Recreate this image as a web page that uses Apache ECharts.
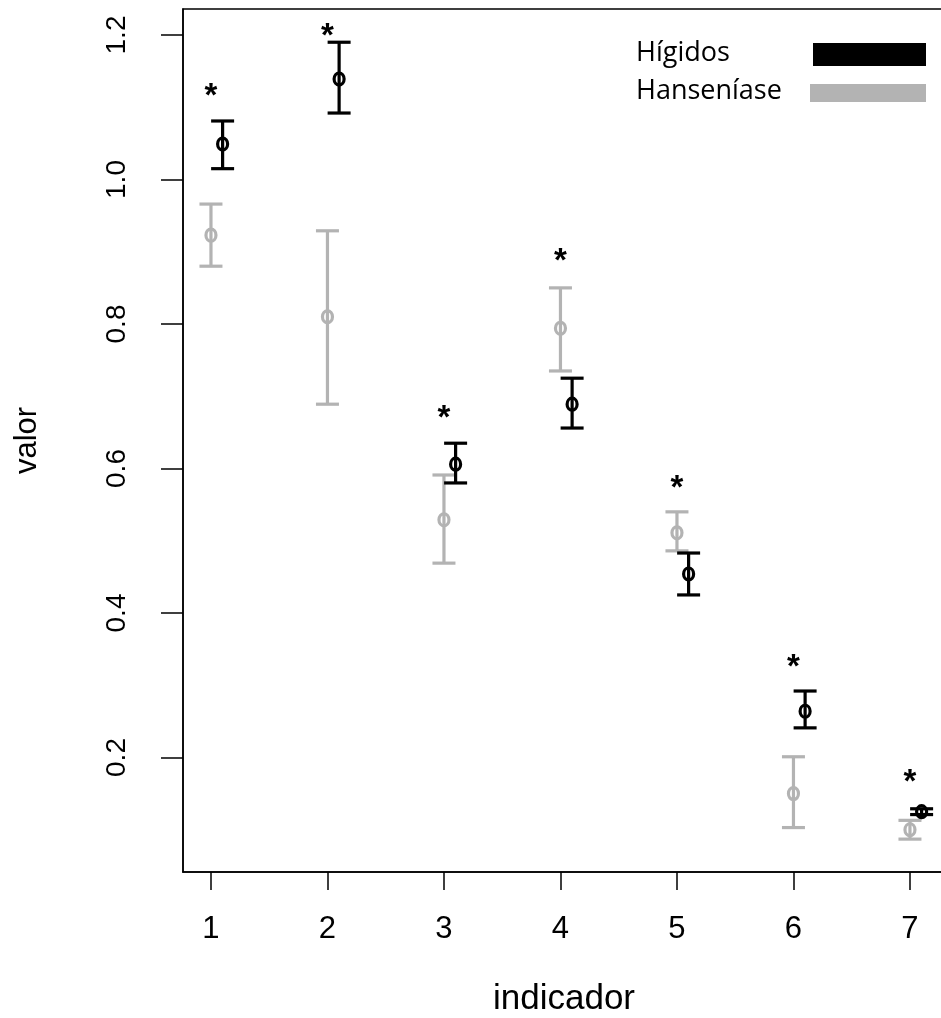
<!DOCTYPE html>
<html>
<head>
<meta charset="utf-8">
<script src="https://cdn.jsdelivr.net/npm/echarts@6/dist/echarts.min.js"></script>
<style>html,body{margin:0;padding:0;background:#fff;}#c{width:941px;height:1018px;}</style>
</head>
<body>
<div id="c"></div>
<script>
const categories = [1, 2, 3, 4, 5, 6, 7];
const xTicks = [1, 2, 3, 4, 5, 6, 7];
const yTicks = [0.2, 0.4, 0.6, 0.8, 1.0, 1.2];
const higidosMean = [1.049, 1.139, 0.606, 0.689, 0.454, 0.264, 0.125];
const higidosLow  = [1.015, 1.092, 0.580, 0.656, 0.425, 0.241, 0.121];
const higidosHigh = [1.081, 1.190, 0.635, 0.725, 0.483, 0.292, 0.129];
const hansMean = [0.923, 0.810, 0.529, 0.794, 0.511, 0.150, 0.100];
const hansLow  = [0.880, 0.689, 0.469, 0.735, 0.486, 0.103, 0.087];
const hansHigh = [0.966, 0.929, 0.591, 0.850, 0.540, 0.201, 0.113];
const starY = [1.127, 1.210, 0.681, 0.898, 0.584, 0.336, 0.177];
const seriesNames = ['Hígidos', 'Hanseníase'];

const chart = echarts.init(document.getElementById('c'), null, {renderer: 'canvas'});

function errRender(color, offset) {
  return function (params, api) {
    const x = api.value(0) + offset;
    const pH = api.coord([x, api.value(2)]);
    const pL = api.coord([x, api.value(1)]);
    const pM = api.coord([x, api.value(3)]);
    const cw = 11.5;
    const st = {stroke: color, lineWidth: 3.2, fill: null};
    return {
      type: 'group',
      children: [
        {type: 'line', shape: {x1: pH[0], y1: pH[1], x2: pL[0], y2: pL[1]}, style: st},
        {type: 'line', shape: {x1: pH[0] - cw, y1: pH[1], x2: pH[0] + cw, y2: pH[1]}, style: st},
        {type: 'line', shape: {x1: pL[0] - cw, y1: pL[1], x2: pL[0] + cw, y2: pL[1]}, style: st},
        {type: 'ellipse', shape: {cx: pM[0], cy: pM[1], rx: 5, ry: 6}, style: {stroke: color, lineWidth: 3.2, fill: null}}
      ]
    };
  };
}

function starRender(params, api) {
  const p = api.coord([api.value(0), api.value(1)]);
  return {
    type: 'text',
    x: p[0], y: p[1] + 9,
    style: {text: '*', fill: '#000', font: 'bold 33px "Liberation Sans"', align: 'center', verticalAlign: 'middle'}
  };
}

const option = {
  backgroundColor: '#fff',
  animation: false,
  grid: {left: 183, top: 9, width: 780, height: 863, show: true, borderColor: '#000', borderWidth: 1.5,
    containLabel: false, outerBoundsMode: 'none'},
  xAxis: {
    type: 'value', min: 0.76, max: 0.76 + 780 / 116.5,
    name: 'indicador', nameLocation: 'middle', nameGap: 110,
    nameTextStyle: {fontFamily: 'Liberation Sans', fontSize: 35, color: '#000', padding: [0, 18, 0, 0]},
    axisLine: {show: true, onZero: false, lineStyle: {color: '#000', width: 1.5}},
    axisTick: {show: true, inside: false, length: 18, customValues: xTicks, lineStyle: {color: '#000', width: 1.5}},
    axisLabel: {customValues: xTicks, margin: 42, fontFamily: 'Liberation Sans', fontSize: 31, color: '#000'},
    splitLine: {show: false}
  },
  yAxis: {
    type: 'value', min: 0.0415, max: 1.236,
    name: 'valor', nameLocation: 'middle', nameGap: 140, nameRotate: 90,
    nameTextStyle: {fontFamily: 'Liberation Sans', fontSize: 31, color: '#000'},
    axisLine: {show: true, onZero: false, lineStyle: {color: '#000', width: 1.5}},
    axisTick: {show: true, inside: false, length: 22, customValues: yTicks, lineStyle: {color: '#000', width: 1.5}},
    axisLabel: {customValues: yTicks, rotate: 90, margin: 52, fontFamily: 'Liberation Sans', fontSize: 28, color: '#000',
      formatter: v => v.toFixed(1)},
    splitLine: {show: false}
  },
  series: [
    {
      name: seriesNames[1], type: 'custom', renderItem: errRender('#b3b3b3', 0),
      encode: {x: 0, y: [1, 2]},
      data: categories.map((c, i) => [c, hansLow[i], hansHigh[i], hansMean[i]])
    },
    {
      name: seriesNames[0], type: 'custom', renderItem: errRender('#000', 0.1),
      encode: {x: 0, y: [1, 2]},
      data: categories.map((c, i) => [c, higidosLow[i], higidosHigh[i], higidosMean[i]])
    },
    {
      name: 'sig', type: 'custom', renderItem: starRender,
      encode: {x: 0, y: 1},
      data: categories.map((c, i) => [c, starY[i]])
    }
  ],
  graphic: [
    {type: 'text', x: 636, y: 53, style: {text: seriesNames[0], font: '27px "Open Sans"', fill: '#000', verticalAlign: 'middle'}},
    {type: 'rect', x: 813, y: 43, shape: {width: 113, height: 23}, style: {fill: '#000'}},
    {type: 'text', x: 636, y: 91, style: {text: seriesNames[1], font: '27px "Open Sans"', fill: '#000', verticalAlign: 'middle'}},
    {type: 'rect', x: 810, y: 84, shape: {width: 116, height: 18}, style: {fill: '#b3b3b3'}}
  ]
};
chart.setOption(option);
</script>
</body>
</html>
